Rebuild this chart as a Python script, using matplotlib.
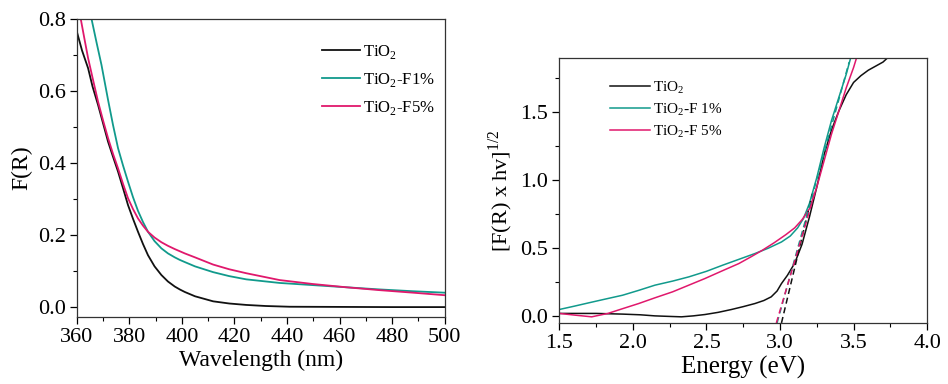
import matplotlib
matplotlib.use("Agg")
import matplotlib.pyplot as plt
from matplotlib.ticker import MultipleLocator

plt.rcParams['font.family'] = ['Liberation Serif', 'DejaVu Serif']
plt.rcParams['mathtext.fontset'] = 'custom'
plt.rcParams['mathtext.rm'] = 'Liberation Serif'

# ---------------- Left panel: F(R) vs wavelength ----------------
wl_tio2 = [360, 362, 364.3, 366, 368.1, 370, 371.9, 373.8, 375.7, 377.6, 379.5, 381.4, 383.3, 385.2,
           387.1, 389.6, 392.2, 394.7, 397.3, 399.2, 401.1, 405, 411.9, 418, 424.5, 432, 441, 460, 480, 500]
fr_tio2 = [0.765, 0.712, 0.663, 0.612, 0.561, 0.51, 0.459, 0.417, 0.376, 0.33, 0.283, 0.245, 0.209, 0.175,
           0.144, 0.113, 0.089, 0.071, 0.057, 0.049, 0.042, 0.03, 0.016, 0.01, 0.006, 0.003, 0.001, 0.0005, 0.0, 0.0]

wl_f1 = [365.6, 367.5, 369.4, 371.9, 373.8, 375.7, 377.6, 379.5, 381.4, 383.3, 385.2, 387.1,
         389.6, 392.2, 394.7, 397.3, 399.2, 401.1, 405, 411.9, 418, 424.5, 437.2, 449.9, 462.6, 475.3, 488, 500]
fr_f1 = [0.80, 0.735, 0.672, 0.575, 0.505, 0.441, 0.393, 0.348, 0.305, 0.267, 0.236, 0.209,
         0.183, 0.163, 0.149, 0.138, 0.131, 0.125, 0.113, 0.097, 0.086, 0.077, 0.067, 0.061, 0.055, 0.049, 0.044, 0.040]

wl_f5 = [361.5, 362.9, 364.3, 366.2, 368.1, 370, 371.9, 373.8, 375.7, 377.6, 379.5, 381.4, 383.3,
         385.2, 387.1, 389.6, 392.2, 394.7, 397.3, 399.2, 401.1, 405, 411.9, 418, 424.5, 437.2, 449.9,
         462.6, 475.3, 488, 500]
fr_f5 = [0.80, 0.745, 0.691, 0.63, 0.570, 0.518, 0.469, 0.425, 0.385, 0.342, 0.302, 0.272, 0.246,
         0.226, 0.209, 0.193, 0.180, 0.170, 0.161, 0.155, 0.149, 0.138, 0.118, 0.105, 0.094, 0.075, 0.064,
         0.055, 0.047, 0.040, 0.033]

# ---------------- Right panel: Tauc plot ----------------
e_tio2 = [1.5, 1.75, 1.93, 2.05, 2.15, 2.25, 2.33, 2.41, 2.49, 2.58, 2.67, 2.75, 2.83, 2.89, 2.94,
          2.98, 3.01, 3.05, 3.1, 3.15, 3.2, 3.25, 3.3, 3.35, 3.4, 3.45, 3.5, 3.55, 3.6, 3.65, 3.7, 3.73]
t_tio2 = [0.02, 0.02, 0.015, 0.01, 0.002, -0.002, -0.005, 0.002, 0.012, 0.028, 0.049, 0.07, 0.093, 0.115, 0.142,
          0.185, 0.24, 0.3, 0.39, 0.53, 0.73, 0.95, 1.19, 1.37, 1.51, 1.63, 1.72, 1.77, 1.81, 1.84, 1.87, 1.9]

e_f1 = [1.5, 1.6, 1.70, 1.81, 1.93, 2.04, 2.15, 2.27, 2.38, 2.5, 2.61, 2.72, 2.83, 2.92, 3.01,
        3.07, 3.12, 3.16, 3.2, 3.25, 3.3, 3.35, 3.4, 3.45, 3.48]
t_f1 = [0.049, 0.073, 0.098, 0.125, 0.154, 0.19, 0.228, 0.258, 0.289, 0.33, 0.375, 0.418, 0.461, 0.5, 0.546,
        0.59, 0.65, 0.72, 0.83, 1.02, 1.24, 1.44, 1.61, 1.78, 1.9]

e_f5 = [1.5, 1.61, 1.72, 1.83, 1.93, 2.04, 2.15, 2.27, 2.38, 2.49, 2.6, 2.72, 2.8, 2.88, 2.96, 3.04,
        3.1, 3.15, 3.2, 3.25, 3.3, 3.35, 3.4, 3.45, 3.5, 3.52]
t_f5 = [0.02, 0.007, -0.005, 0.02, 0.055, 0.093, 0.135, 0.179, 0.228, 0.277, 0.33, 0.387, 0.435, 0.485, 0.54, 0.6,
        0.65, 0.71, 0.79, 0.95, 1.145, 1.34, 1.51, 1.68, 1.83, 1.9]

# tangent (band-gap extrapolation) lines: endpoints
fit_tio2_x = [3.01, 3.22]
fit_tio2_y = [-0.05, 0.90]
fit_f1_x = [2.98, 3.47]
fit_f1_y = [-0.05, 1.87]
fit_f5_x = [2.975, 3.24]
fit_f5_y = [-0.05, 0.92]

c_black = '#111111'
c_teal = '#119a8c'
c_pink = '#e0186c'

fig = plt.figure(figsize=(9.48, 3.84), dpi=100)
ax1 = fig.add_axes([0.081, 0.174, 0.388, 0.777])
ax2 = fig.add_axes([0.590, 0.159, 0.388, 0.690])

lw = 1.3
ax1.plot(wl_tio2, fr_tio2, color=c_black, lw=lw, label='TiO$_2$')
ax1.plot(wl_f1, fr_f1, color=c_teal, lw=lw, label='TiO$_2$-F1%')
ax1.plot(wl_f5, fr_f5, color=c_pink, lw=lw, label='TiO$_2$-F5%')
ax1.set_xlim(360, 500)
ax1.set_ylim(-0.028, 0.8)
ax1.xaxis.set_major_locator(MultipleLocator(20))
ax1.xaxis.set_minor_locator(MultipleLocator(10))
ax1.yaxis.set_major_locator(MultipleLocator(0.2))
ax1.yaxis.set_minor_locator(MultipleLocator(0.1))
ax1.set_xlabel('Wavelength (nm)', fontsize=17, labelpad=2)
ax1.set_ylabel('F(R)', fontsize=17, labelpad=4)
ax1.legend(loc='upper left', bbox_to_anchor=(0.625, 0.97), frameon=False,
           fontsize=12, handlelength=2.3, labelspacing=0.6, handletextpad=0.2)

ax2.plot(e_tio2, t_tio2, color=c_black, lw=1.1, label='TiO$_2$')
ax2.plot(e_f1, t_f1, color=c_teal, lw=1.1, label='TiO$_2$-F 1%')
ax2.plot(e_f5, t_f5, color=c_pink, lw=1.1, label='TiO$_2$-F 5%')
ax2.plot(fit_tio2_x, fit_tio2_y, color=c_black, lw=1.1, ls=(0, (4, 2.5)))
ax2.plot(fit_f1_x, fit_f1_y, color=c_teal, lw=1.1, ls=(0, (4, 2.5)))
ax2.plot(fit_f5_x, fit_f5_y, color=c_pink, lw=1.1, ls=(0, (4, 2.5)))
ax2.set_xlim(1.5, 4.0)
ax2.set_ylim(-0.05, 1.9)
ax2.xaxis.set_major_locator(MultipleLocator(0.5))
ax2.xaxis.set_minor_locator(MultipleLocator(0.25))
ax2.yaxis.set_major_locator(MultipleLocator(0.5))
ax2.yaxis.set_minor_locator(MultipleLocator(0.25))
ax2.set_xlabel('Energy (eV)', fontsize=18, labelpad=2)
ax2.set_ylabel('[F(R) x hv]$^{1/2}$', fontsize=16, labelpad=4)
ax2.legend(loc='upper left', bbox_to_anchor=(0.1, 0.97), frameon=False,
           fontsize=11, handlelength=2.6, labelspacing=0.35, handletextpad=0.2)

for ax in (ax1, ax2):
    ax.tick_params(which='major', direction='out', length=5, width=0.9, labelsize=16,
                   top=False, right=False, pad=3)
    ax.tick_params(which='minor', direction='out', length=3, width=0.8,
                   top=False, right=False)
    for s in ax.spines.values():
        s.set_linewidth(0.9)
        s.set_color('#333333')

fig.savefig('out.png', dpi=100)
